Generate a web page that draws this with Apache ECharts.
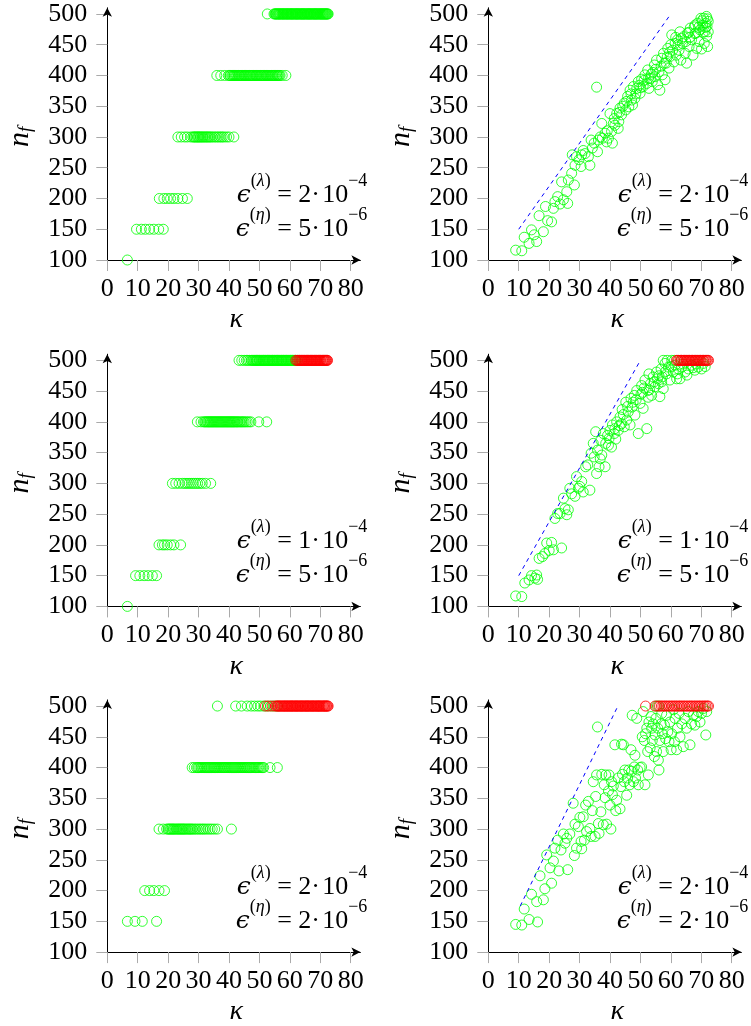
<!DOCTYPE html>
<html><head><meta charset="utf-8">
<script src="https://cdn.jsdelivr.net/npm/echarts@6/dist/echarts.min.js"></script>
<style>html,body{margin:0;padding:0;background:#fff}#c{width:751px;height:1026px}</style>
</head><body><div id="c"></div>
<script>
// ---------- tick labels ----------
const xTicks = [0,10,20,30,40,50,60,70,80];
const yTicks = [100,150,200,250,300,350,400,450,500];

// ---------- left column: [n_f level, [kappa values]] ----------
const tlGreen = [
  [100,[6.6]],
  [150,[9.6,11.2,12.5,13.9,15.3,16.9,18.4]],
  [200,[17.1,18.6,19.7,20.8,21.9,23.2,24.7,26.3]],
  [300,[23.2,24.3,25.4,26.3,27.4,28.1,28.5,28.8,29.2,29.6,29.9,30.2,30.6,30.9,31.3,31.6,32.0,32.4,32.8,33.2,33.6,34.0,34.5,35.1,35.6,36.2,36.7,37.3,37.8,38.4,39.2,40.0,41.6]],
  [400,[36.0,37.3,38.6,39.8,40.2,40.5,40.9,41.2,41.5,41.8,42.1,42.4,42.7,43.1,43.3,43.6,43.9,44.2,44.5,44.9,45.1,45.4,45.7,46.0,46.3,46.7,46.9,47.2,47.5,47.8,48.1,48.5,48.8,49.0,49.3,49.6,49.9,50.3,50.5,50.8,51.1,51.4,51.7,52.1,52.3,52.6,52.9,53.2,53.5,53.9,54.1,54.4,54.7,55.0,55.3,55.7,55.9,56.2,56.5,56.8,57.5,58.7]],
  [500,[52.6,54.8,55.1,55.3,55.5,55.7,56.0,56.2,56.4,56.6,56.8,57.0,57.3,57.5,57.7,57.9,58.1,58.3,58.6,58.8,59.0,59.2,59.4,59.6,59.9,60.1,60.3,60.5,60.7,60.9,61.1,61.3,61.6,61.8,62.0,62.2,62.4,62.6,62.8,63.0,63.3,63.5,63.7,63.9,64.1,64.3,64.5,64.7,64.9,65.1,65.4,65.6,65.8,66.0,66.2,66.4,66.6,66.8,67.0,67.2,67.5,67.7,67.9,68.1,68.3,68.5,68.7,68.9,69.1,69.3,69.6,69.8,70.0,70.2,70.4,70.6,70.8,71.0,71.2,71.4,71.6,71.8,72.0,72.2,72.4,72.6]]
];
const tlRed = [];

const mlGreen = [
  [100,[6.6]],
  [150,[9.3,10.7,12.1,13.4,14.8,16.2]],
  [200,[17.0,18.1,18.8,19.7,20.8,21.9,24.1]],
  [300,[21.4,22.5,23.6,24.7,25.5,26.2,26.9,27.6,28.3,29.0,29.7,30.4,31.2,32.3,34.0]],
  [400,[29.6,30.8,31.6,32.0,32.3,32.7,33.0,33.3,33.6,33.9,34.2,34.5,34.8,35.1,35.4,35.7,36.0,36.3,36.6,36.9,37.2,37.5,37.8,38.1,38.4,38.7,39.0,39.3,39.6,39.9,40.2,40.5,40.8,41.1,41.4,41.7,42.0,42.4,42.7,43.0,43.4,43.8,44.2,44.6,45.0,45.5,46.0,46.6,47.2,49.8,52.4]],
  [500,[43.3,44.2,45.0,45.7,46.2,46.8,47.3,47.6,47.9,48.2,48.5,48.8,49.0,49.2,49.4,49.7,50.0,50.2,50.5,50.8,51.1,51.3,51.5,51.8,52.0,52.3,52.6,52.8,53.0,53.3,53.5,53.8,54.1,54.3,54.5,54.8,55.0,55.3,55.6,55.8,56.0,56.3,56.5,56.8,57.1,57.3,57.5,57.8,58.0,58.3,58.6,58.8,59.0,59.3,59.5,59.8,60.1,60.3,60.5,60.8,61.0,61.3,61.6,61.8,62.0,62.5]]
];
const mlRed = [
  [500,[62.0,62.4,62.8,63.1,63.3,63.6,63.8,64.0,64.2,64.5,64.7,64.9,65.1,65.4,65.6,65.8,66.0,66.2,66.4,66.7,66.9,67.1,67.3,67.5,67.7,68.0,68.2,68.4,68.6,68.8,69.0,69.3,69.5,69.7,69.9,70.1,70.3,70.6,70.8,71.0,71.2,71.4,71.6,71.8,72.0,72.2,72.4]]
];

const blGreen = [
  [150,[6.6,9.1,11.5,16.2]],
  [200,[12.3,13.9,15.3,17.0,18.8]],
  [300,[17.0,18.4,19.5,20.0,20.3,20.7,21.0,21.4,21.7,22.0,22.4,22.8,23.1,23.5,23.8,24.2,24.5,24.9,25.2,25.6,26.0,26.4,26.8,27.2,27.6,28.0,28.5,29.0,29.6,30.2,30.7,31.3,31.8,32.4,33.1,33.8,34.5,35.3,36.2,40.8]],
  [400,[27.9,28.6,29.3,29.7,30.0,30.4,30.8,31.1,31.5,31.9,32.2,32.6,32.9,33.3,33.6,34.0,34.3,34.7,35.0,35.3,35.6,36.0,36.3,36.7,37.0,37.4,37.7,38.1,38.4,38.7,39.0,39.4,39.7,40.1,40.4,40.8,41.1,41.5,41.8,42.2,42.5,42.9,43.2,43.6,43.9,44.3,44.6,45.0,45.3,45.7,46.0,46.4,46.8,47.1,47.5,47.9,48.3,48.7,49.1,49.5,49.8,50.2,50.6,51.0,51.4,53.5,55.9]],
  [500,[36.2,42.2,44.1,46.0,47.3,48.4,49.5,50.4,51.5,52.6,53.7,54.8,55.9]]
];
const blRed = [
  [500,[52.0,53.0,54.2,55.2,55.6,56.0,56.3,56.6,56.9,57.2,57.5,57.8,58.1,58.3,58.6,58.9,59.2,59.4,59.7,60.0,60.3,60.5,60.8,61.0,61.3,61.6,61.9,62.1,62.4,62.6,62.9,63.2,63.5,63.7,64.0,64.2,64.5,64.8,65.1,65.3,65.6,65.8,66.1,66.3,66.6,66.9,67.2,67.4,67.7,67.9,68.2,68.5,68.8,69.0,69.3,69.5,69.8,70.0,70.3,70.6,70.9,71.1,71.4,71.6,71.9,72.1,72.4,72.6]]
];

// ---------- right column: [kappa, n_f] ----------
const trGreen = [
[9,116],[11,115],[11.8,137],[13.4,127],[14.2,149],[15.1,141],[15.9,130],[16.7,172],[18.1,146],[18.8,187],[19.5,164],[20.8,162],[21.4,184],[21.9,195],[22.8,203],[23.6,191],[24.1,227],[24.7,198],[25.8,211],[26.1,192],[26.3,230],[27.4,241],[27.6,271],[28.3,222],[28.5,254],[29,268],[29.8,263],[30.5,252],[30.7,271],[31.2,278],[31.8,273],[32.9,268],[33.4,254],[33.8,295],[34.2,282],[34.8,290],[35.6,381],[35.9,276],[36.2,295],[36.8,300],[37.3,322],[37.5,298],[38.4,306],[38.9,292],[39.1,310],[39.5,298],[40,338],[40.5,309],[40.8,290],[41.1,322],[41.4,330],[41.6,319],[42.2,338],[42.7,314],[42.9,325],[43.1,340],[43.3,347],[43.8,336],[44.2,350],[44.7,355],[45.2,344],[45.5,358],[45.8,366],[46.2,349],[46.6,376],[46.9,370],[47.1,360],[47.4,352],[47.7,382],[48.2,363],[48.5,370],[48.8,379],[49.3,390],[49.6,384],[49.9,371],[50.1,380],[50.4,394],[50.9,382],[51.2,392],[51.5,401],[52.1,387],[52.4,409],[52.7,396],[52.8,379],[53.3,395],[53.6,402],[53.9,390],[54.1,405],[54.6,417],[54.8,398],[55,410],[55.3,425],[55.7,385],[56.1,406],[56.4,376],[56.8,415],[57,428],[57.2,401],[57.6,436],[57.9,420],[58.1,393],[58.5,420],[58.8,430],[59,444],[59.4,412],[59.6,438],[59.8,431],[60,450],[60.3,466],[60.6,441],[61,422],[61.4,452],[61.6,462],[61.8,433],[62.2,458],[62.4,450],[62.7,441],[63,471],[63.3,425],[63.5,460],[63.8,452],[64.2,463],[64.7,436],[64.9,455],[65.2,420],[65.5,469],[65.9,470],[66,447],[66.2,462],[66.4,477],[66.8,458],[67.3,433],[67.7,479],[67.9,468],[68,482],[68.2,469],[68.5,444],[68.8,485],[69.1,478],[69.3,455],[69.6,474],[69.9,493],[70.1,443],[70.3,489],[70.5,482],[70.6,470],[70.8,493],[71,452],[71.2,471],[71.4,478],[71.5,485],[71.7,496],[71.8,464],[71.9,480],[72,492],[72.1,447],[72.3,488],[72.3,471]
];
const trRed = [];

const mrGreen = [
[9,117],[11,116],[12,138],[13.4,143],[14.2,150],[15.3,146],[15.9,151],[16.2,144],[16.7,178],[17.8,181],[18.6,186],[19.2,203],[20,191],[20.8,204],[21.4,192],[21.9,243],[22.8,251],[23.6,251],[24.1,195],[24.7,276],[25.2,259],[25.8,249],[26.3,257],[26.8,292],[27.4,283],[28.5,279],[29,311],[29.6,292],[30.1,295],[30.7,303],[31.2,286],[32,327],[32.7,330],[33.4,289],[33.8,349],[34.5,365],[34.8,343],[35.3,384],[35.6,316],[35.9,354],[36.4,327],[36.8,340],[37,370],[37.3,346],[37.8,381],[38.4,327],[38.6,365],[39.2,378],[39.5,362],[39.7,373],[40,386],[40.5,359],[40.8,395],[41.4,381],[41.6,389],[41.9,372],[42.2,400],[42.7,386],[43.1,394],[43.3,408],[43.8,397],[44,420],[44.4,412],[44.7,392],[45.2,432],[45.5,403],[45.8,425],[46,416],[46.6,395],[46.9,438],[47.3,424],[47.6,432],[48,443],[48.2,411],[48.6,436],[48.8,451],[49.3,381],[49.9,430],[50.2,445],[50.4,459],[50.7,448],[50.9,422],[51.2,455],[51.5,468],[52.1,389],[52.4,451],[52.6,440],[52.8,478],[53,452],[53.3,462],[53.7,443],[54.2,473],[54.5,465],[54.8,457],[55.3,481],[55.6,470],[55.9,462],[56.1,475],[56.4,441],[56.8,486],[57,465],[57.2,473],[57.5,454],[58.1,495],[58.3,482],[58.6,478],[59.2,489],[59.7,468],[60.2,490],[60.8,481],[61.4,492],[61.9,470],[62.2,478],[62.5,486],[63,470],[63.6,489],[64,494],[64.7,481],[65.3,476],[65.8,486],[66.8,492],[67.3,488],[67.9,484],[68.4,494],[69,489],[70.1,486],[70.7,495],[71.3,490],
[57.5,500],[58.8,500],[60.3,500],[61.2,500]];
const mrRed = [
[61.9,500],[62.3,500],[62.6,500],[63.1,500],[63.4,500],[63.6,500],[64.0,500],[64.3,500],[64.5,500],[64.9,500],[65.2,500],[65.4,500],[65.8,500],[66.1,500],[66.3,500],[66.7,500],[67.0,500],[67.2,500],[67.6,500],[67.9,500],[68.1,500],[68.5,500],[68.8,500],[69.0,500],[69.4,500],[69.7,500],[69.9,500],[70.3,500],[70.6,500],[70.8,500],[71.2,500],[71.5,500],[71.7,500],[72.1,500],[72.4,500]
];

const brGreen = [
[9,145],[11,144],[11.8,170],[13.4,153],[14.2,194],[15.9,182],[16.2,149],[17,224],[18.1,185],[18.6,203],[19.2,258],[20.3,237],[20.8,212],[21.4,248],[21.9,269],[22.8,282],[23.2,232],[23.9,266],[24.7,292],[25.2,277],[25.8,285],[26.1,234],[26.8,292],[27.9,342],[28.3,257],[28.5,308],[29,269],[29.6,304],[30.1,319],[30.5,280],[30.7,268],[31.2,320],[31.6,282],[32,339],[32.3,296],[32.9,345],[33.4,301],[33.8,288],[34.2,330],[34.5,377],[35.1,288],[35.3,353],[35.6,388],[35.9,466],[36.2,309],[36.4,293],[37,328],[37.3,389],[37.8,307],[38.1,372],[38.4,351],[38.6,388],[38.9,308],[39.5,362],[39.7,388],[40,339],[40.3,300],[40.5,377],[40.8,356],[41.1,370],[41.6,437],[41.9,330],[42.2,347],[42.7,383],[43.3,333],[43.6,369],[43.8,438],[44.1,389],[44.4,437],[44.7,377],[44.9,396],[45.5,355],[45.8,383],[46.2,396],[46.5,372],[46.9,429],[47.1,394],[47.3,485],[47.7,377],[48,401],[48.2,420],[48.4,383],[48.8,480],[49.1,396],[49.3,372],[49.9,400],[50.4,401],[50.6,450],[50.9,491],[51.3,444],[51.5,372],[51.7,455],[52.1,464],[52.4,426],[52.6,388],[52.8,474],[53.2,432],[53.5,483],[53.7,464],[53.9,444],[54.2,471],[54.6,418],[54.8,453],[55.1,480],[55.3,426],[55.7,464],[55.9,412],[56.1,396],[56.4,444],[56.8,471],[57,488],[57.2,455],[57.5,426],[57.9,469],[58.3,447],[58.6,485],[59,458],[59.4,442],[59.7,474],[60.1,429],[60.3,455],[60.8,494],[61.2,442],[61.4,480],[61.9,429],[62.2,464],[62.7,488],[63,450],[63.6,471],[64.1,434],[64.7,480],[65.2,464],[65.8,491],[66.3,437],[66.8,471],[67.4,485],[67.9,469],[68.5,483],[69,491],[69.6,474],[70.1,488],[70.7,496],[71.5,453],[71.8,491],
[55.2,500],[56.0,500]];
const brRed = [
[51.7,500],[54.8,500],[55.6,500],[56.3,500],[56.9,500],[57.4,500],[58.0,500],[58.5,500],[59.1,500],[59.6,500],[60.2,500],[60.7,500],[61.3,500],[61.8,500],[62.4,500],[62.9,500],[63.4,500],[64.0,500],[64.5,500],[65.1,500],[65.6,500],[66.2,500],[66.7,500],[67.2,500],[67.8,500],[68.3,500],[68.9,500],[69.4,500],[69.9,500],[70.5,500],[71.0,500],[71.5,500],[72.0,500],[72.4,500]
];

// ---------- blue dashed reference lines (right column) ----------
const trLine = [[10,150],[60,500]];
const mrLine = [[10,150],[50,500]];
const brLine = [[10.5,175],[42.6,500]];

// ---------- annotation values: [eps_lambda mantissa, exp, eps_eta mantissa, exp] ----------
const epsTop = ['2','−4','5','−6'];
const epsMid = ['1','−4','5','−6'];
const epsBot = ['2','−4','2','−6'];

// ================= build =================
function levelsToPairs(levels){ const out=[]; levels.forEach(([n,ks])=>ks.forEach(k=>out.push([k,n]))); return out; }

const panels = [
  {green: levelsToPairs(tlGreen), red: levelsToPairs(tlRed), line: null, eps: epsTop},
  {green: trGreen, red: trRed, line: trLine, eps: epsTop},
  {green: levelsToPairs(mlGreen), red: levelsToPairs(mlRed), line: null, eps: epsMid},
  {green: mrGreen, red: mrRed, line: mrLine, eps: epsMid},
  {green: levelsToPairs(blGreen), red: levelsToPairs(blRed), line: null, eps: epsBot},
  {green: brGreen, red: brRed, line: brLine, eps: epsBot}
];

const FONT = "'Liberation Serif','DejaVu Serif',serif";
const EFONT = "'DejaVu Serif','Liberation Serif',serif";
const XMAX = 83.2, YMIN = 100, YMAX = 510;
const GW = 253.1, GH = 252.2;
const lefts = [107.3, 488.3];
const tops = [7.8, 354.2, 699.9];

const grid = [], xAxis = [], yAxis = [], series = [], graphic = [];
panels.forEach((p, i) => {
  const left = lefts[i % 2], top = tops[Math.floor(i / 2)];
  grid.push({left, top, width: GW, height: GH, containLabel: false, outerBoundsMode: 'none'});
  xAxis.push({
    type: 'value', gridIndex: i, min: 0, max: XMAX,
    axisLine: {show: true, onZero: false, symbol: ['none','arrow'], symbolSize: [7,9], lineStyle: {color: '#000', width: 1}},
    axisTick: {show: true, length: 11, customValues: xTicks, lineStyle: {color: '#aaa', width: 1}},
    axisLabel: {customValues: xTicks, margin: 16, fontSize: 26, fontFamily: FONT, color: '#000'},
    splitLine: {show: false}
  });
  yAxis.push({
    type: 'value', gridIndex: i, min: YMIN, max: YMAX,
    axisLine: {show: true, onZero: false, symbol: ['none','arrow'], symbolSize: [7,9], lineStyle: {color: '#000', width: 1}},
    axisTick: {show: true, length: 11, customValues: yTicks, lineStyle: {color: '#aaa', width: 1}},
    axisLabel: {customValues: yTicks, margin: 20, fontSize: 26, fontFamily: FONT, color: '#000'},
    splitLine: {show: false}
  });
  if (p.line) series.push({type: 'line', xAxisIndex: i, yAxisIndex: i, data: p.line, symbol: 'none', silent: true,
    lineStyle: {color: '#0000ff', width: 1, type: [4,4]}});
  series.push({type: 'scatter', xAxisIndex: i, yAxisIndex: i, data: p.green, symbol: 'circle', symbolSize: 10, silent: true,
    itemStyle: {color: 'rgba(0,0,0,0)', borderColor: '#00ff00', borderWidth: 1}});
  if (p.red.length) series.push({type: 'scatter', xAxisIndex: i, yAxisIndex: i, data: p.red, symbol: 'circle', symbolSize: 10, silent: true,
    itemStyle: {color: 'rgba(0,0,0,0)', borderColor: '#ff0000', borderWidth: 1}});

  const y500 = top + (YMAX - 500) * GH / (YMAX - YMIN);
  const y100 = top + GH;
  const rich = {
    e: {fontSize: 25, fontFamily: EFONT, fontStyle: 'italic', lineHeight: 36, verticalAlign: 'bottom', fill: '#000'},
    m: {fontSize: 26, fontFamily: FONT, lineHeight: 36, verticalAlign: 'bottom', fill: '#000'},
    s: {fontSize: 18, fontFamily: FONT, lineHeight: 18, verticalAlign: 'top', fill: '#000'},
    si: {fontSize: 18, fontFamily: FONT, fontStyle: 'italic', lineHeight: 18, verticalAlign: 'top', fill: '#000'}
  };
  const line1 = '{e|ϵ}{s|(}{si|λ}{s|)}{m| = ' + p.eps[0] + '·\u200a10}{s|' + p.eps[1] + '}';
  const line2 = '{e|ϵ}{s|(}{si|η}{s|)}{m| = ' + p.eps[2] + '·\u200a10}{s|' + p.eps[3] + '}';
  graphic.push({type: 'text', x: left + 260, y: y500 + 176, silent: true,
    style: {text: line1, align: 'right', verticalAlign: 'middle', rich}});
  graphic.push({type: 'text', x: left + 260, y: y500 + 210, silent: true,
    style: {text: line2, align: 'right', verticalAlign: 'middle', rich}});
  // axis titles
  graphic.push({type: 'text', x: left + 129, y: y100 + 60, silent: true,
    style: {text: 'κ', fontSize: 28, fontFamily: FONT, fontStyle: 'italic', fill: '#000', align: 'center', verticalAlign: 'middle'}});
  graphic.push({type: 'text', x: left - 87, y: y500 + 123, rotation: Math.PI / 2, silent: true,
    style: {text: '{n|n}{f|f}', align: 'center', verticalAlign: 'middle',
      rich: {n: {fontSize: 30, fontFamily: FONT, fontStyle: 'italic', lineHeight: 30, verticalAlign: 'top', fill: '#000'},
             f: {fontSize: 19, fontFamily: FONT, fontStyle: 'italic', lineHeight: 19, verticalAlign: 'bottom', fill: '#000'}}}});
});

const chart = echarts.init(document.getElementById('c'), null, {renderer: 'canvas'});
chart.setOption({animation: false, backgroundColor: '#fff', grid, xAxis, yAxis, series, graphic});
</script></body></html>
